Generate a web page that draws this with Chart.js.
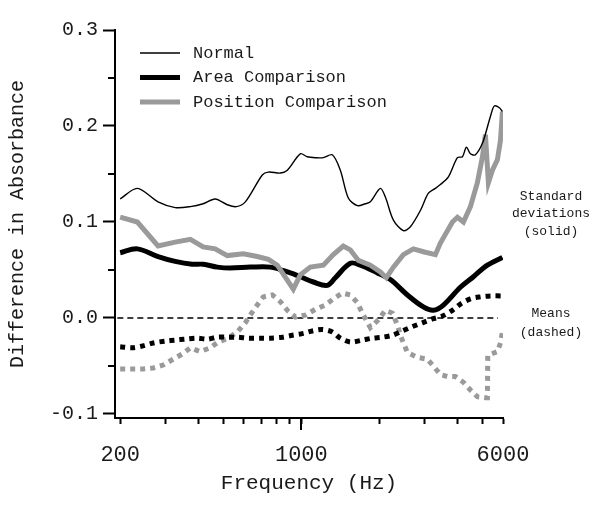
<!DOCTYPE html>
<html>
<head>
<meta charset="utf-8">
<script src="https://cdn.jsdelivr.net/npm/chart.js@4.4.1/dist/chart.umd.min.js"></script>
<style>
  html, body { margin: 0; padding: 0; background: #fff; }
  #wrap { width: 600px; height: 510px; }
</style>
</head>
<body>
<div id="wrap"><canvas id="chart" width="600" height="510"></canvas></div>
<script>
// ===== DATA =====

const normalFreq = [200, 233, 280, 326, 373, 418, 465, 518, 561, 608, 707, 746, 830, 883, 991,
  1054, 1132, 1216, 1317, 1414, 1518, 1645, 1766, 1846, 2018, 2110, 2266, 2476, 2635, 2880,
  3092, 3290, 3440, 3694, 4002, 4184, 4335, 4492, 4696, 4998, 5224, 5462, 5560, 5812, 5970];
const normalSD = [0.124, 0.135, 0.121, 0.115, 0.116, 0.119, 0.124, 0.118, 0.116, 0.121, 0.149, 0.152, 0.151, 0.154, 0.171,
  0.168, 0.167, 0.167, 0.170, 0.154, 0.125, 0.117, 0.119, 0.121, 0.135, 0.126, 0.102, 0.091, 0.095, 0.112,
  0.130, 0.135, 0.139, 0.147, 0.167, 0.168, 0.178, 0.171, 0.170, 0.182, 0.199, 0.217, 0.221, 0.219, 0.215];

const areaFreq = [200, 233, 280, 326, 379, 418, 474, 532, 635, 759, 907, 991, 1113, 1260, 1353,
  1545, 1689, 1965, 2205, 2566, 2958, 3232, 3533, 4108, 4614, 5224, 5970];
const areaSD = [0.068, 0.072, 0.064, 0.059, 0.056, 0.056, 0.053, 0.052, 0.053, 0.053, 0.047, 0.043, 0.0375, 0.034, 0.042,
  0.057, 0.055, 0.047, 0.040, 0.024, 0.0115, 0.008, 0.0135, 0.032, 0.043, 0.055, 0.063];

const posFreq = [200, 233, 280, 326, 373, 418, 465, 518, 597, 676, 746, 808, 931, 991, 1083,
  1216, 1329, 1452, 1545, 1660, 1846, 2018, 2128, 2266, 2476, 2706, 2958, 3290, 3440, 3828,
  4002, 4222, 4492, 4778, 4998, 5132, 5270, 5462, 5710, 5866, 5970];
const posSD = [0.105, 0.100, 0.075, 0.079, 0.082, 0.074, 0.072, 0.065, 0.067, 0.064, 0.061, 0.055, 0.030, 0.045, 0.053,
  0.055, 0.066, 0.075, 0.071, 0.060, 0.055, 0.048, 0.042, 0.053, 0.066, 0.072, 0.069, 0.066, 0.078, 0.100,
  0.105, 0.100, 0.116, 0.141, 0.168, 0.191, 0.141, 0.154, 0.165, 0.185, 0.215];

const areaMeanFreq = [200, 222, 245, 268, 300, 326, 356, 397, 434, 474, 522, 571, 624, 694, 759,
  844, 923, 1018, 1102, 1205, 1317, 1414, 1545, 1720, 1880, 2054, 2245, 2454, 2682, 2931,
  3203, 3501, 3828, 4108, 4492, 4909, 5366, 5970];
const areaMean = [-0.030, -0.031, -0.029, -0.026, -0.024, -0.023, -0.022, -0.021, -0.022, -0.020, -0.020, -0.020, -0.021, -0.021, -0.021,
  -0.020, -0.018, -0.016, -0.0135, -0.012, -0.0145, -0.021, -0.025, -0.023, -0.021, -0.020, -0.018, -0.0135, -0.009, -0.005,
  -0.001, 0.002, 0.008, 0.0145, 0.020, 0.022, 0.023, 0.023];

const posMeanFreq = [200, 224, 245, 268, 293, 320, 347, 373, 407, 445, 478, 522, 566, 608, 635,
  676, 713, 773, 830, 883, 948, 1036, 1132, 1238, 1329, 1439, 1545, 1645, 1720, 1846,
  1982, 2110, 2245, 2347, 2410, 2566, 2804, 3064, 3232, 3440, 3662, 3930, 4222, 4492, 4778,
  5132, 5224, 5240, 5710, 5866, 5970];
const posMean = [-0.053, -0.053, -0.053, -0.052, -0.049, -0.043, -0.0375, -0.031, -0.035, -0.031, -0.025, -0.021, -0.0145, -0.005, 0.003,
  0.0135, 0.022, 0.024, 0.017, 0.008, 0.001, 0.003, 0.009, 0.0135, 0.020, 0.026, 0.024, 0.016, 0.005, -0.010,
  -0.002, 0.008, 0.005, -0.007, -0.018, -0.036, -0.041, -0.043, -0.050, -0.059, -0.061, -0.061, -0.067, -0.075, -0.082,
  -0.083, -0.083, -0.039, -0.035, -0.026, -0.0145];

const zeroFreq = [195, 5740];
const zeroValue = [0, 0];

const xTickValues = [200, 300, 400, 500, 600, 700, 800, 900, 1000, 2000, 3000, 4000, 5000, 6000];
const xTickLabels = [200, 1000, 6000];
const yTickValues = [-0.1, 0, 0.1, 0.2, 0.3];
const yMinorTicks = [-0.05, 0.05, 0.15, 0.25];

const sdNote = ['Standard', 'deviations', '(solid)'];
const meanNote = ['Means', '(dashed)'];

// ===== STYLE =====
const FONT = "'Liberation Mono', 'Courier New', monospace";
const INK = '#1a1a1a';
const GRAY = '#9a9a9a';

const pairs = (xs, ys) => xs.map((x, i) => ({ x, y: ys[i] }));

// minor ticks, long 1000 tick, legend and side notes
const extras = {
  id: 'extras',
  afterDraw(chart) {
    const { ctx, chartArea, scales: { x, y } } = chart;
    ctx.save();
    ctx.strokeStyle = '#000';
    ctx.lineWidth = 2;
    yMinorTicks.forEach(v => {
      const py = Math.round(y.getPixelForValue(v));
      ctx.beginPath();
      ctx.moveTo(chartArea.left - 7, py);
      ctx.lineTo(chartArea.left, py);
      ctx.stroke();
    });
    const px = Math.round(x.getPixelForValue(1000));
    ctx.beginPath();
    ctx.moveTo(px, chartArea.bottom);
    ctx.lineTo(px, chartArea.bottom + 12);
    ctx.stroke();

    // legend
    const items = chart.data.datasets.filter(d => d.inLegend);
    ctx.font = `17px ${FONT}`;
    ctx.textBaseline = 'middle';
    ctx.textAlign = 'left';
    items.forEach((ds, i) => {
      const ly = chartArea.top + 23 + i * 24.5;
      ctx.strokeStyle = ds.borderColor;
      ctx.lineWidth = ds.borderWidth;
      ctx.beginPath();
      ctx.moveTo(chartArea.left + 25, ly);
      ctx.lineTo(chartArea.left + 65, ly);
      ctx.stroke();
      ctx.fillStyle = INK;
      ctx.fillText(ds.label, chartArea.left + 78, ly);
    });

    // side notes
    ctx.font = `13px ${FONT}`;
    ctx.textAlign = 'center';
    const nx = chartArea.right + 48;
    sdNote.forEach((t, i) => ctx.fillText(t, nx, y.getPixelForValue(0.127) + i * 17.5));
    meanNote.forEach((t, i) => ctx.fillText(t, nx, y.getPixelForValue(0.005) + i * 19));
    ctx.restore();
  }
};

new Chart(document.getElementById('chart'), {
  type: 'line',
  data: {
    datasets: [
      { label: 'Normal', data: pairs(normalFreq, normalSD), borderColor: '#000', borderWidth: 1.4,
        tension: 0.3, inLegend: true, order: 0 },
      { label: 'Area Comparison', data: pairs(areaFreq, areaSD), borderColor: '#000', borderWidth: 5,
        tension: 0.35, inLegend: true, order: 3 },
      { label: 'Position Comparison', data: pairs(posFreq, posSD), borderColor: GRAY, borderWidth: 5,
        tension: 0, inLegend: true, order: 2 },
      { label: 'Area mean', data: pairs(areaMeanFreq, areaMean), borderColor: '#000', borderWidth: 5,
        borderDash: [5, 5], tension: 0.3, order: 4 },
      { label: 'Position mean', data: pairs(posMeanFreq, posMean), borderColor: GRAY, borderWidth: 5,
        borderDash: [5, 5], tension: 0, order: 5 },
      { label: 'zero', data: pairs(zeroFreq, zeroValue), borderColor: '#000', borderWidth: 1.5,
        borderDash: [6, 4], tension: 0, order: 6 }
    ]
  },
  options: {
    responsive: false,
    animation: false,
    events: [],
    devicePixelRatio: 1,
    layout: { padding: { top: 30, right: 97, left: 0, bottom: 0 } },
    elements: {
      point: { radius: 0 },
      line: { borderCapStyle: 'butt', fill: false }
    },
    plugins: {
      legend: { display: false },
      tooltip: { enabled: false }
    },
    scales: {
      x: {
        type: 'logarithmic',
        min: 191,
        max: 6000,
        afterBuildTicks: s => { s.ticks = xTickValues.map(v => ({ value: v })); },
        afterFit: s => { s.height = 92; },
        ticks: {
          autoSkip: false,
          maxRotation: 0,
          padding: 18,
          color: INK,
          font: { family: FONT, size: 22 },
          callback: v => xTickLabels.includes(v) ? String(v) : ''
        },
        grid: { drawOnChartArea: false, tickLength: 6, tickWidth: 2, tickColor: '#000' },
        border: { display: true, color: '#000', width: 2 },
        title: {
          display: true, text: 'Frequency (Hz)', color: INK,
          font: { family: FONT, size: 21 }, padding: { top: 0, bottom: 14 }
        }
      },
      y: {
        min: -0.10417,
        max: 0.3,
        afterBuildTicks: s => { s.ticks = yTickValues.map(v => ({ value: v })); },
        afterFit: s => { s.width = 115; },
        ticks: {
          padding: 5,
          color: INK,
          font: { family: FONT, size: 20 },
          callback: v => v.toFixed(1)
        },
        grid: { drawOnChartArea: false, tickLength: 12, tickWidth: 2, tickColor: '#000' },
        border: { display: true, color: '#000', width: 2 },
        title: {
          display: true, text: 'Difference in Absorbance', color: INK,
          font: { family: FONT, size: 20 }, padding: { top: 6, bottom: 0 }
        }
      }
    }
  },
  plugins: [extras]
});
</script>
</body>
</html>
